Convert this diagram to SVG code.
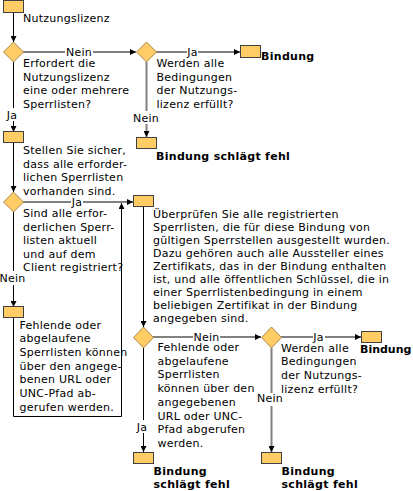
<svg xmlns="http://www.w3.org/2000/svg" width="413" height="491" viewBox="0 0 413 491">
<style>
.t{font-family:"DejaVu Sans",Verdana,sans-serif;font-size:11px;fill:#000;letter-spacing:0.25px}
.b{font-weight:bold;letter-spacing:0.3px}
.lab{text-anchor:middle}
.box{fill:#FFCC66;stroke:#404040;stroke-width:1}
.dia{fill:#FFCC66;stroke:#a8884e;stroke-width:1}
.k{fill:none;stroke:#000;stroke-width:1}
.g{fill:none;stroke:#808080;stroke-width:2}
</style>
<defs>
<marker id="ah" markerWidth="6" markerHeight="6" refX="6" refY="3" orient="auto" markerUnits="userSpaceOnUse"><path d="M0,0L6,3L0,6z" fill="#000"/></marker>
</defs>
<rect width="413" height="491" fill="#fff"/>

<g id="connectors">
<path class="k" d="M13.5,12.5V42" marker-end="url(#ah)"/>
<path class="g" d="M23,52H65M93,52H136" marker-end="url(#ah)"/>
<text class="t lab" x="79" y="55.5">Nein</text>
<path class="g" d="M156,52H187M198,52H240" marker-end="url(#ah)"/>
<text class="t lab" x="192.5" y="55.5">Ja</text>
<path class="g" d="M146.5,62V111M146.5,124V137" marker-end="url(#ah)"/>
<text class="t lab" x="146" y="122">Nein</text>
<path class="k" d="M13.5,62V108M13.5,121V132" marker-end="url(#ah)"/>
<text class="t lab" x="12" y="119">Ja</text>
<path class="k" d="M13.5,143V192" marker-end="url(#ah)"/>
<path class="g" d="M23,202H71M83,202H133" marker-end="url(#ah)"/>
<text class="t lab" x="77" y="205.5">Ja</text>
<path class="k" d="M13.5,212V271M13.5,285V307" marker-end="url(#ah)"/>
<text class="t lab" x="12.5" y="282">Nein</text>
<path class="k" d="M13.5,318V416.5H121.5V203" marker-end="url(#ah)"/>
<path class="k" d="M143.5,207V327" marker-end="url(#ah)"/>
<path class="g" d="M153,337H193M220,337H261" marker-end="url(#ah)"/>
<text class="t lab" x="206.5" y="340.5">Nein</text>
<path class="g" d="M281,337H313M325,337H361" marker-end="url(#ah)"/>
<text class="t lab" x="318.5" y="340.5">Ja</text>
<path class="k" d="M143.5,348V420M143.5,433V452" marker-end="url(#ah)"/>
<text class="t lab" x="142" y="431">Ja</text>
<path class="g" d="M271.5,348V393M271.5,406V452" marker-end="url(#ah)"/>
<text class="t lab" x="270" y="402">Nein</text>
</g>

<g id="start">
<rect class="box" x="3.5" y="0.5" width="20" height="12"/>
<text class="t" x="23" y="22">Nutzungslizenz</text>
</g>

<g id="d1">
<polygon class="dia" points="13.5,42 23.5,52 13.5,62 3.5,52"/>
<text class="t"><tspan x="23" y="67">Erfordert die</tspan><tspan x="23" y="80.7">Nutzungslizenz</tspan><tspan x="23" y="94.4">eine oder mehrere</tspan><tspan x="23" y="108.1">Sperrlisten?</tspan></text>
</g>

<g id="d2">
<polygon class="dia" points="146.5,42 156.5,52 146.5,62 136.5,52"/>
<text class="t"><tspan x="156.5" y="67">Werden alle</tspan><tspan x="156.5" y="80.7">Bedingungen</tspan><tspan x="156.5" y="94.4">der Nutzungs-</tspan><tspan x="156.5" y="108.1">lizenz erfüllt?</tspan></text>
</g>

<g id="bind1">
<rect class="box" x="240.5" y="45.5" width="20" height="12"/>
<text class="t b" x="261" y="60">Bindung</text>
</g>

<g id="fail1">
<rect class="box" x="136.5" y="137.5" width="20" height="11"/>
<text class="t b" x="156" y="160">Bindung schlägt fehl</text>
</g>

<g id="r2">
<rect class="box" x="3.5" y="131.5" width="20" height="11"/>
<text class="t"><tspan x="23" y="154">Stellen Sie sicher,</tspan><tspan x="23" y="167.5">dass alle erforder-</tspan><tspan x="23" y="181">lichen Sperrlisten</tspan><tspan x="23" y="194.5">vorhanden sind.</tspan></text>
</g>

<g id="d3">
<polygon class="dia" points="13.5,192 23.5,202 13.5,212 3.5,202"/>
<text class="t"><tspan x="23" y="217">Sind alle erfor-</tspan><tspan x="23" y="230.5">derlichen Sperr-</tspan><tspan x="23" y="244">listen aktuell</tspan><tspan x="23" y="257.5">und auf dem</tspan><tspan x="23" y="271">Client registriert?</tspan></text>
</g>

<g id="r5">
<rect class="box" x="133.5" y="195.5" width="20" height="11"/>
<text class="t"><tspan x="153" y="218">Überprüfen Sie alle registrierten</tspan><tspan x="153" y="231">Sperrlisten, die für diese Bindung von</tspan><tspan x="153" y="244">gültigen Sperrstellen ausgestellt wurden.</tspan><tspan x="153" y="257">Dazu gehören auch alle Aussteller eines</tspan><tspan x="153" y="270">Zertifikats, das in der Bindung enthalten</tspan><tspan x="153" y="283">ist, und alle öffentlichen Schlüssel, die in</tspan><tspan x="153" y="296">einer Sperrlistenbedingung in einem</tspan><tspan x="153" y="309">beliebigen Zertifikat in der Bindung</tspan><tspan x="153" y="322">angegeben sind.</tspan></text>
</g>

<g id="r6">
<rect class="box" x="3.5" y="306.5" width="20" height="11"/>
<text class="t"><tspan x="19.5" y="328.5">Fehlende oder</tspan><tspan x="19.5" y="342.2">abgelaufene</tspan><tspan x="19.5" y="355.9">Sperrlisten können</tspan><tspan x="19.5" y="369.6">über den angege-</tspan><tspan x="19.5" y="383.3">benen URL oder</tspan><tspan x="19.5" y="397">UNC-Pfad ab-</tspan><tspan x="19.5" y="410.7">gerufen werden.</tspan></text>
</g>

<g id="d4">
<polygon class="dia" points="143.5,327 153.5,337.5 143.5,348 133.5,337.5"/>
<text class="t"><tspan x="157.5" y="351">Fehlende oder</tspan><tspan x="157.5" y="364.7">abgelaufene</tspan><tspan x="157.5" y="378.4">Sperrlisten</tspan><tspan x="157.5" y="392.1">können über den</tspan><tspan x="157.5" y="405.8">angegebenen</tspan><tspan x="157.5" y="419.5">URL oder UNC-</tspan><tspan x="157.5" y="433.2">Pfad abgerufen</tspan><tspan x="157.5" y="446.9">werden.</tspan></text>
</g>

<g id="d5">
<polygon class="dia" points="271.5,327 281.5,337.5 271.5,348 261.5,337.5"/>
<text class="t"><tspan x="281" y="351.5">Werden alle</tspan><tspan x="281" y="365.2">Bedingungen</tspan><tspan x="281" y="378.9">der Nutzungs-</tspan><tspan x="281" y="392.6">lizenz erfüllt?</tspan></text>
</g>

<g id="bind2">
<rect class="box" x="361.5" y="331.5" width="20" height="11"/>
<text class="t b" x="360" y="353" style="letter-spacing:0">Bindung</text>
</g>

<g id="fail2">
<rect class="box" x="133.5" y="452.5" width="20" height="11"/>
<text class="t b"><tspan x="153.5" y="474.5">Bindung</tspan><tspan x="153.5" y="488">schlägt fehl</tspan></text>
</g>

<g id="fail3">
<rect class="box" x="261.5" y="452.5" width="20" height="11"/>
<text class="t b"><tspan x="281.5" y="474.5">Bindung</tspan><tspan x="281.5" y="488">schlägt fehl</tspan></text>
</g>
</svg>
